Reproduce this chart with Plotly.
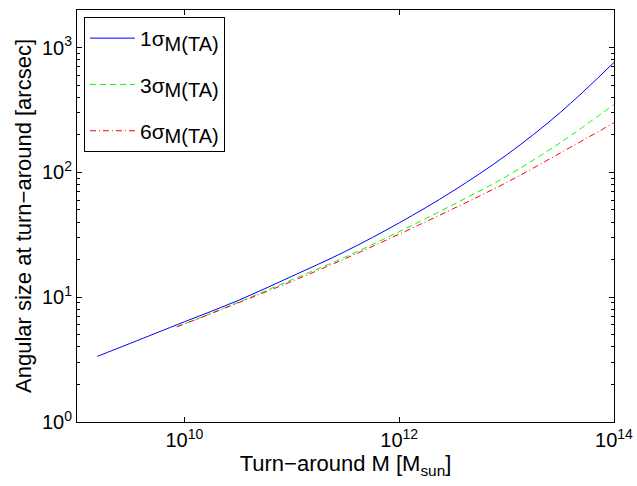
import plotly.graph_objects as go

# Turn-around mass [M_sun]
mass_1sigma = [1.55e9, 3.16e9, 1e10, 3.16e10, 1e11, 3.16e11, 1e12, 3.16e12, 1e13, 3.16e13, 1e14]
size_1sigma = [3.36, 4.28, 6.35, 9.4, 14.7, 23.3, 39.4, 70.8, 138, 302, 760]

mass_3sigma = [8.5e9, 1e10, 3.16e10, 1e11, 3.16e11, 1e12, 3.16e12, 1e13, 3.16e13, 1e14]
size_3sigma = [5.8, 6.1, 9.1, 13.8, 21.0, 33.5, 55.0, 93, 173, 350]

mass_6sigma = [8.5e9, 1e10, 3.16e10, 1e11, 3.16e11, 1e12, 3.16e12, 1e13, 3.16e13, 1e14]
size_6sigma = [5.8, 6.1, 9.0, 13.4, 20.4, 32.0, 51.0, 83, 143, 250]

legend_names = ["1σ", "3σ", "6σ"]
sub_label = "M(TA)"

x_tickvals = [1e10, 1e12, 1e14]
x_ticktext = ["10<sup>10</sup>", "10<sup>12</sup>", "10<sup>14</sup>"]
y_tickvals = [1, 10, 100, 1000]
y_ticktext = ["10<sup>0</sup>", "10<sup>1</sup>", "10<sup>2</sup>", "10<sup>3</sup>"]
y_minor = [m * d for d in (1, 10, 100) for m in range(2, 10)] + [2000]

FONT = "Liberation Sans, Arial, Helvetica, sans-serif"

def lab(s):
    return f"{s}<sub><span style='font-size:20px'>{sub_label}</span></sub>"

fig = go.Figure()
fig.add_trace(go.Scatter(x=mass_1sigma, y=size_1sigma, mode="lines", name=lab(legend_names[0]),
                         legendgroup="a", line=dict(color="#0000ff", width=1, shape="spline")))
fig.add_trace(go.Scatter(x=mass_3sigma, y=size_3sigma, mode="lines", name=lab(legend_names[1]),
                         legendgroup="b", line=dict(color="#00ff00", width=1, dash="6px,4px", shape="spline")))
fig.add_trace(go.Scatter(x=mass_6sigma, y=size_6sigma, mode="lines", name=lab(legend_names[2]),
                         legendgroup="c", line=dict(color="#ff0000", width=1, dash="6px,3px,1px,3px", shape="spline")))

fig.update_layout(
    width=637, height=486,
    margin=dict(l=77, r=23, t=10, b=64, autoexpand=False),
    paper_bgcolor="white", plot_bgcolor="white",
    font=dict(family=FONT, color="black", size=20),
    showlegend=True, hovermode=False,
    legend=dict(x=0.013, y=0.983, xanchor="left", yanchor="top",
                bordercolor="black", borderwidth=1, bgcolor="white",
                font=dict(family=FONT, size=21, color="black"),
                itemwidth=45, tracegroupgap=16),
)
fig.update_xaxes(
    type="log", range=[9, 14], automargin=False,
    tickmode="array", tickvals=x_tickvals, ticktext=x_ticktext,
    ticks="inside", ticklen=5, tickcolor="black",
    showline=True, linecolor="black", linewidth=1, mirror="ticks",
    showgrid=False, zeroline=False,
    tickfont=dict(size=20),
    title=dict(text="Turn−around M [M<sub>sun</sub>]", font=dict(size=22), standoff=2),
)
fig.update_yaxes(
    type="log", range=[0, 3.301], automargin=False,
    tickmode="array", tickvals=y_tickvals, ticktext=y_ticktext,
    ticks="inside", ticklen=5, tickcolor="black",
    minor=dict(tickmode="array", tickvals=y_minor, ticks="inside", ticklen=3, tickcolor="black"),
    showline=True, linecolor="black", linewidth=1, mirror="ticks",
    showgrid=False, zeroline=False,
    tickfont=dict(size=20),
    title=dict(text="Angular size at turn−around [arcsec]", font=dict(size=22), standoff=4),
)

fig.write_html("out.html", config={"displayModeBar": False, "staticPlot": True},
               post_script="document.body.style.margin='0';")
